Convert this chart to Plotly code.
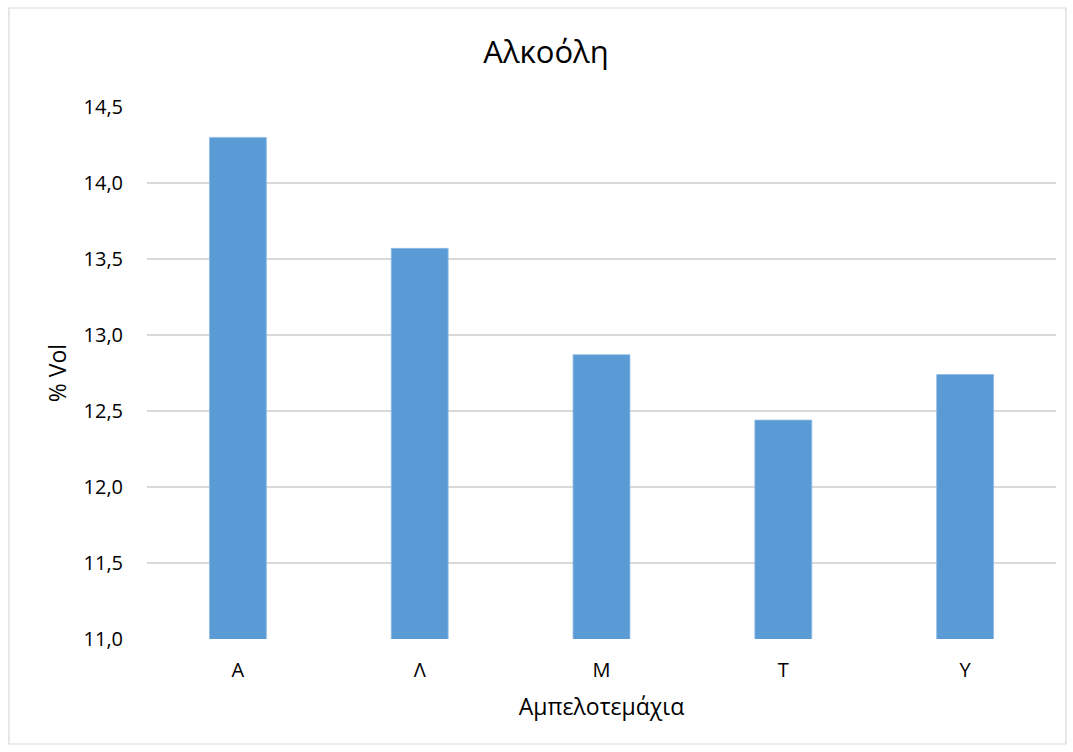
import plotly.graph_objects as go

# Alcohol content per vineyard plot
plots = ["Α", "Λ", "Μ", "Τ", "Υ"]
alcohol_vol = [14.30, 13.57, 12.87, 12.44, 12.74]

W, H = 1073, 752
L, R, T, B = 147, 17, 107, 113

fig = go.Figure(
    go.Bar(
        x=plots,
        y=alcohol_vol,
        marker=dict(color="#5b9bd5", line=dict(color="#8fbbe3", width=0.8)),
        hovertemplate="%{x}: %{y:.2f}<extra></extra>",
    )
)

pw = W - L - R
ph = H - T - B
# light outer frame of the chart area
fig.add_shape(
    type="rect", xref="paper", yref="paper",
    x0=(9 - L) / pw, x1=(W - 7 - L) / pw,
    y0=-(H - 8 - (H - B)) / ph,
    y1=1 + (T - 8) / ph,
    line=dict(color="#d9d9d9", width=1.2), fillcolor="rgba(0,0,0,0)", layer="below",
)

fig.update_layout(
    width=W, height=H,
    margin=dict(l=L, r=R, t=T, b=B, pad=0),
    paper_bgcolor="white", plot_bgcolor="white",
    separators=",.",
    bargap=0.687,
    showlegend=False,
    font=dict(family="Open Sans, Noto Sans, sans-serif", color="#000000"),
    title=dict(
        text="Αλκοόλη", x=546 / W, xref="container", xanchor="center",
        y=1 - 52 / H, yanchor="middle",
        font=dict(size=31, color="#000000"),
    ),
    xaxis=dict(
        showgrid=False, showline=False, zeroline=False,
        ticks="", ticklabelstandoff=17,
        tickfont=dict(size=20),
        title=dict(text="Αμπελοτεμάχια", font=dict(size=23), standoff=16),
    ),
    yaxis=dict(
        range=[11, 14.5], dtick=0.5, tick0=11, tickformat=".1f",
        showgrid=True, gridcolor="#d9d9d9", gridwidth=1.5,
        zeroline=False, showline=False, ticks="",
        ticklabelstandoff=23,
        tickfont=dict(size=20),
        title=dict(text="% Vol", font=dict(size=23), standoff=10),
    ),
)

fig.write_html("out.html")
